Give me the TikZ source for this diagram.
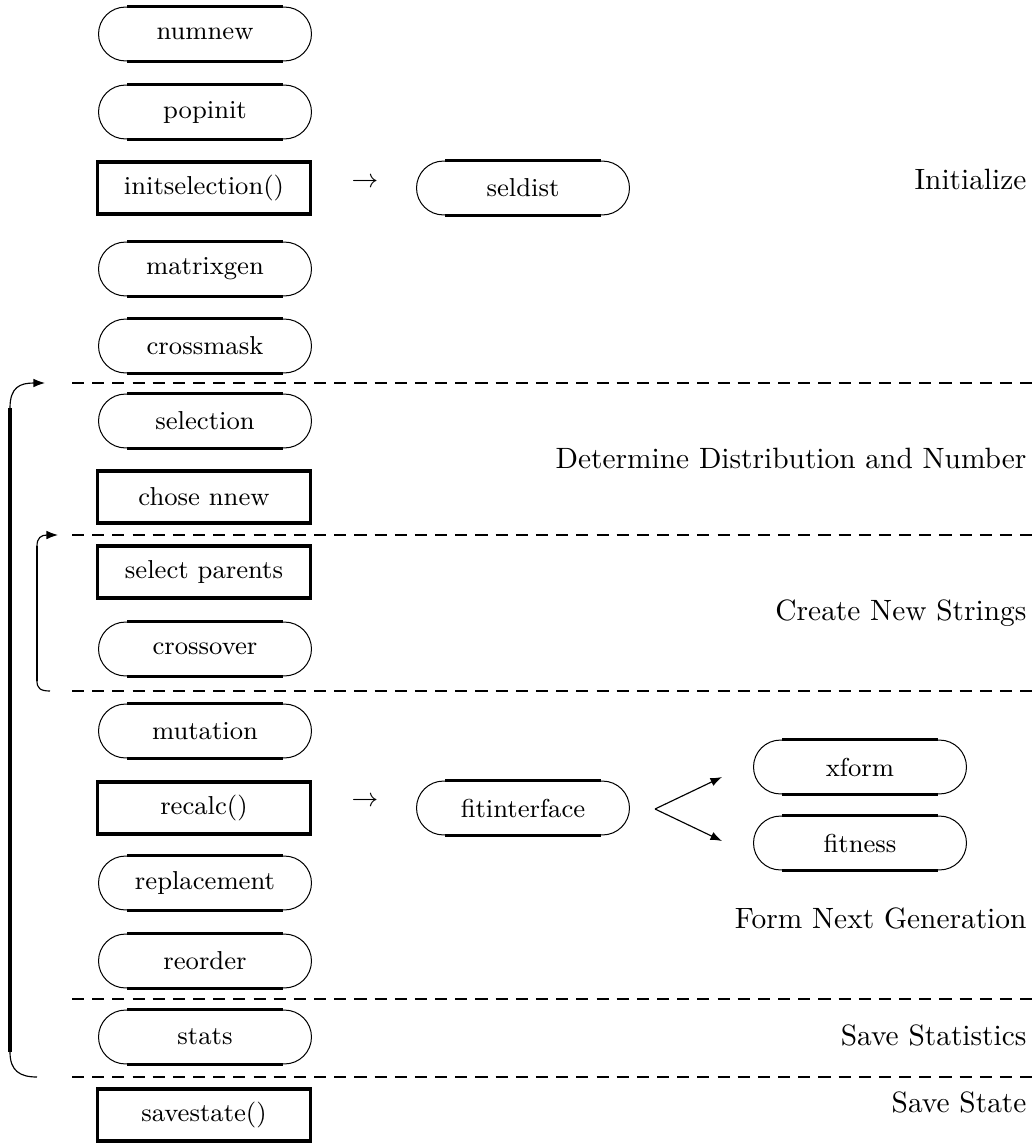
\documentclass[tikz,border=0pt]{standalone}
\usetikzlibrary{positioning, calc, shapes.misc, arrows.meta}
\tikzset{
    oval node/.style={rounded rectangle, draw, line width=0.35pt, minimum width=73.9pt, minimum height=18.7pt, inner sep=0pt, font=\small},
    oval edge/.style={line width=0.9pt},
    proc node/.style={rectangle, draw, line width=1.35pt, minimum width=73.9pt, minimum height=18pt, inner sep=0pt, font=\small},
    stage label/.style={anchor=base east, inner sep=0pt, font=\fontsize{10.2}{12}\selectfont},
    call arrow/.style={inner sep=0pt, font=\fontsize{9.5}{11}\selectfont},
    sep line/.style={line width=0.6pt, dash pattern=on 4.2pt off 2.8pt},
    loop line/.style={line width=1.1pt},
    loop arc/.style={line width=0.4pt},
    fork arrow/.style={line width=0.4pt, -{Latex[length=4pt,width=3pt]}},
}
\newcommand{\drawoval}[3]{
    \node[oval node] (#1) at (#2) {#3};
    \draw[oval edge] ([xshift=-27pt]#1.north) -- ([xshift=27pt]#1.north);
    \draw[oval edge] ([xshift=-27pt]#1.south) -- ([xshift=27pt]#1.south);
}

\begin{document}
\begin{tikzpicture}[x=0.347pt, y=-0.347pt]
    \useasboundingbox (0,0) rectangle (1034,1143);
    % left column
    \drawoval{numnew}{205,34}{numnew}
    \drawoval{popinit}{205,112}{popinit}
    \node[proc node] (initsel) at (204,188) {initselection()};
    \drawoval{matrixgen}{205,269}{matrixgen}
    \drawoval{crossmask}{205,346}{crossmask}
    \drawoval{selection}{205,421}{selection}
    \node[proc node] (chose) at (204,497) {chose nnew};
    \node[proc node] (selpar) at (204,572) {select parents};
    \drawoval{crossover}{205,649}{crossover}
    \drawoval{mutation}{205,731}{mutation}
    \node[proc node] (recalc) at (204,808) {recalc()};
    \drawoval{replacement}{205,883}{replacement}
    \drawoval{reorder}{205,961}{reorder}
    \drawoval{stats}{205,1037}{stats}
    \node[proc node] (savestate) at (204,1115) {savestate()};
    % called routines
    \node[call arrow] (initcall) at (365,183) {$\rightarrow$};
    \drawoval{seldist}{523,188}{seldist}
    \node[call arrow] (recalccall) at (365,802) {$\rightarrow$};
    \drawoval{fitinterface}{523,808}{fitinterface}
    \drawoval{xform}{860,767}{xform}
    \drawoval{fitness}{860,843}{fitness}
    \coordinate (fork) at (655,809);
    \coordinate (xform in) at (722,777);
    \coordinate (fitness in) at (722,841);
    \draw[fork arrow] (fork) -- (xform in);
    \draw[fork arrow] (fork) -- (fitness in);
    % stages
    \foreach \y in {383,535,691,999,1077}
        \draw[sep line] (72,\y) -- (1034,\y);
    \node[stage label] (initlab) at (1027,189) {Initialize};
    \node[stage label] (detlab) at (1027,468) {Determine Distribution and Number};
    \node[stage label] (createlab) at (1027,620) {Create New Strings};
    \node[stage label] (formlab) at (1027,928) {Form Next Generation};
    \node[stage label] (statlab) at (1027,1045) {Save Statistics};
    \node[stage label] (savelab) at (1027,1112) {Save State};
    % generation loop
    \coordinate (outer top) at (10,408);
    \coordinate (outer bot) at (10,1052);
    \coordinate (outer in) at (45,383);
    \coordinate (outer out) at (37,1077);
    \draw[loop line] (outer bot) -- (outer top);
    \draw[loop arc, -{Latex[length=4pt,width=3pt]}] (outer top) .. controls (10,387) and (20,383) .. (outer in);
    \draw[loop arc] (outer bot) .. controls (10,1071) and (20,1077) .. (outer out);
    % mating loop
    \coordinate (inner top) at (37,546);
    \coordinate (inner bot) at (37,681);
    \coordinate (inner in) at (58,535);
    \coordinate (inner out) at (50,691);
    \draw[line width=0.8pt] (inner bot) -- (inner top);
    \draw[loop arc, -{Latex[length=4pt,width=3pt]}] (inner top) .. controls (37,538) and (41,535) .. (inner in);
    \draw[loop arc] (inner bot) .. controls (37,688) and (40,691) .. (inner out);
\end{tikzpicture}
\end{document}
